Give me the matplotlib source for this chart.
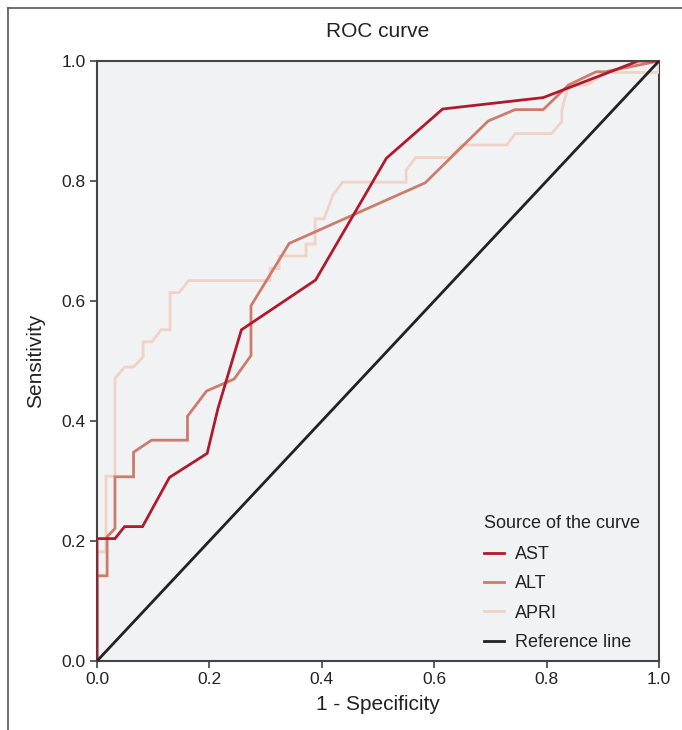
import matplotlib
matplotlib.use("Agg")
import matplotlib.pyplot as plt
from matplotlib.lines import Line2D

plt.rcParams['font.family'] = ['Liberation Sans', 'DejaVu Sans']

# ROC data (1 - specificity, sensitivity)
ast_fpr = [0, 0, 0.032, 0.049, 0.081, 0.129, 0.196, 0.215, 0.257, 0.389, 0.515, 0.615, 0.794, 0.963, 1.0]
ast_tpr = [0, 0.204, 0.204, 0.224, 0.224, 0.306, 0.346, 0.42, 0.552, 0.635, 0.838, 0.92, 0.939, 1.0, 1.0]

alt_fpr = [0, 0, 0.018, 0.018, 0.032, 0.032, 0.065, 0.065, 0.097, 0.161, 0.161, 0.195, 0.244, 0.274,
           0.274, 0.342, 0.584, 0.696, 0.744, 0.794, 0.839, 0.888, 0.904, 1.0]
alt_tpr = [0, 0.142, 0.142, 0.207, 0.221, 0.307, 0.307, 0.348, 0.368, 0.368, 0.408, 0.45, 0.47, 0.509,
           0.592, 0.696, 0.797, 0.9, 0.919, 0.919, 0.96, 0.982, 0.982, 1.0]

apri_fpr = [0, 0, 0.016, 0.016, 0.032, 0.032, 0.049, 0.065, 0.082, 0.082, 0.098, 0.114, 0.13, 0.13,
            0.146, 0.163, 0.308, 0.308, 0.324, 0.324, 0.372, 0.372, 0.388, 0.388, 0.404, 0.42, 0.437,
            0.55, 0.55, 0.567, 0.628, 0.649, 0.729, 0.744, 0.809, 0.827, 0.827, 0.839, 0.871, 0.907,
            1.0, 1.0]
apri_tpr = [0, 0.182, 0.182, 0.308, 0.308, 0.471, 0.49, 0.49, 0.507, 0.532, 0.532, 0.552, 0.552, 0.614,
            0.614, 0.634, 0.634, 0.654, 0.654, 0.675, 0.675, 0.695, 0.695, 0.737, 0.737, 0.777, 0.798,
            0.798, 0.818, 0.839, 0.839, 0.86, 0.86, 0.879, 0.879, 0.899, 0.918, 0.96, 0.96, 0.981,
            0.981, 1.0]

ref_x = [0, 1]
ref_y = [0, 1]

ticks = [0.0, 0.2, 0.4, 0.6, 0.8, 1.0]
tick_labels = ['0.0', '0.2', '0.4', '0.6', '0.8', '1.0']

W, H = 682, 730
fig = plt.figure(figsize=(W / 100, H / 100), dpi=100)
fig.patch.set_facecolor('white')
ax = fig.add_axes([97 / W, (H - 661) / H, 562 / W, 600 / H])
ax.set_facecolor('#f1f2f4')

lw = 2.0
ax.plot(ast_fpr, ast_tpr, color='#b01a2c', lw=lw, label='AST', solid_joinstyle='miter', zorder=5)
ax.plot(alt_fpr, alt_tpr, color='#cd7b6b', lw=lw, label='ALT', solid_joinstyle='miter', zorder=4)
ax.plot(apri_fpr, apri_tpr, color='#f0d2c6', lw=lw, label='APRI', solid_joinstyle='miter', zorder=3)
ax.plot(ref_x, ref_y, color='#222222', lw=lw, label='Reference line', zorder=6)

ax.set_xlim(0, 1)
ax.set_ylim(0, 1)
ax.set_xticks(ticks)
ax.set_xticklabels(tick_labels)
ax.set_yticks(ticks)
ax.set_yticklabels(tick_labels)
ax.tick_params(axis='both', direction='out', length=5, width=1.2, color='#444444',
               labelsize=12.5, labelcolor='#222222', pad=3)
for s in ax.spines.values():
    s.set_color('#444444')
    s.set_linewidth(1.5)

ax.set_title('ROC curve', fontsize=15, color='#222222', pad=17)
ax.set_xlabel('1 - Specificity', fontsize=15, color='#222222', labelpad=6)
ax.set_ylabel('Sensitivity', fontsize=15, color='#222222', labelpad=12)

leg = ax.legend(loc='lower left', bbox_to_anchor=((484 - 97) / 562, (661 - 651) / 600),
                frameon=False, fontsize=13, title='Source of the curve', title_fontsize=13,
                handlelength=1.1, handletextpad=0.6, labelspacing=0.68, borderaxespad=0,
                borderpad=0)
leg._legend_box.align = 'left'
leg._legend_box.sep = 10
for t in leg.get_texts():
    t.set_color('#222222')
leg.get_title().set_color('#222222')

# outer frame (left and top)
fig.add_artist(Line2D([8 / W, 8 / W], [0, 1 - 8 / H], color='#555555', lw=1.2,
                      transform=fig.transFigure))
fig.add_artist(Line2D([8 / W, 1], [1 - 8 / H, 1 - 8 / H], color='#555555', lw=1.2,
                      transform=fig.transFigure))

fig.savefig('out.png', dpi=100)
